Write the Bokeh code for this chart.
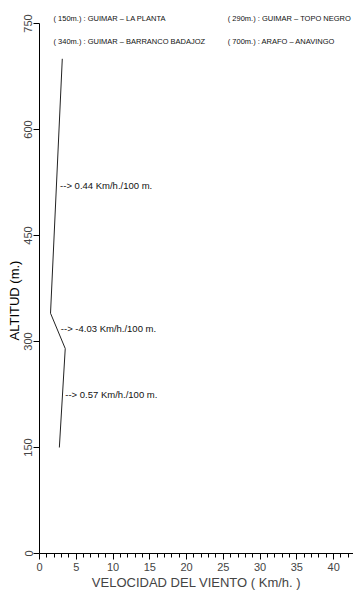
from bokeh.plotting import figure
from bokeh.models import Range1d, FixedTicker, ColumnDataSource, Title
from bokeh.embed import file_html
from bokeh.resources import INLINE
from bokeh.core.properties import value

# Data
altitudes = [150, 290, 340, 700]
velocities = [2.7, 3.5, 1.5, 3.1]

gradient_texts = ["--> 0.57 Km/h./100 m.", "--> -4.03 Km/h./100 m.", "--> 0.44 Km/h./100 m."]
gradient_x = [3.5, 2.9, 2.8]
gradient_y = [225, 318, 521]

station_texts = ["( 150m.) : GUIMAR \u2013 LA PLANTA", "( 290m.) : GUIMAR \u2013 TOPO NEGRO",
                 "( 340m.) : GUIMAR \u2013 BARRANCO BADAJOZ", "( 700m.) : ARAFO \u2013 ANAVINGO"]
station_x = [1.9, 25.6, 1.9, 25.6]
station_y = [757, 757, 724, 724]

x_ticks = [0, 5, 10, 15, 20, 25, 30, 35, 40]
x_minor = list(range(0, 43))
y_ticks = [0, 150, 300, 450, 600, 750]

FONT = "Liberation Sans"

p = figure(width=353, height=601, output_backend="svg", toolbar_location=None,
           x_range=Range1d(0, 42.7), y_range=Range1d(0, 782.5),
           min_border_left=39, min_border_right=0, min_border_top=0, min_border_bottom=48)
p.outline_line_color = None
p.xgrid.visible = False
p.ygrid.visible = False
p.background_fill_color = "white"
p.border_fill_color = "white"

p.line(velocities, altitudes, line_color="#222222", line_width=1)

src = ColumnDataSource(dict(x=gradient_x, y=gradient_y, t=gradient_texts))
p.text(x="x", y="y", text="t", source=src, text_font=value(FONT), text_font_size="9.5px",
       text_baseline="middle", text_align="left", text_color="#111111")

src2 = ColumnDataSource(dict(x=station_x, y=station_y, t=station_texts))
p.text(x="x", y="y", text="t", source=src2, text_font=value(FONT), text_font_size="7.5px",
       text_baseline="middle", text_align="left", text_color="#111111")

xa = p.xaxis[0]
xa.ticker = FixedTicker(ticks=x_ticks, minor_ticks=x_minor)
xa.axis_label = "VELOCIDAD DEL VIENTO ( Km/h. )"
xa.axis_label_text_font = FONT
xa.axis_label_text_font_style = "normal"
xa.axis_label_text_font_size = "13px"
xa.axis_label_standoff = 1
xa.major_label_text_font = FONT
xa.major_label_text_font_size = "11px"
xa.major_label_standoff = 3
xa.major_tick_in = 0
xa.major_tick_out = 6
xa.minor_tick_in = 0
xa.minor_tick_out = 4
xa.axis_line_color = "black"

ya = p.yaxis[0]
ya.ticker = FixedTicker(ticks=y_ticks, minor_ticks=[])
ya.bounds = (0, 750)
ya.major_label_text_font = FONT
ya.major_label_text_font_size = "11px"
ya.major_label_orientation = "vertical"
ya.major_label_standoff = 1
ya.major_tick_in = 0
ya.major_tick_out = 6
ya.minor_tick_out = 0
ya.axis_line_color = "black"

ytitle = Title(text="ALTITUD (m.)", align="left", offset=213, text_font=FONT,
               text_font_style="normal", text_font_size="13px", text_color="black", standoff=0)
p.add_layout(ytitle, "left")

open("out.html", "w").write(file_html(p, INLINE))
